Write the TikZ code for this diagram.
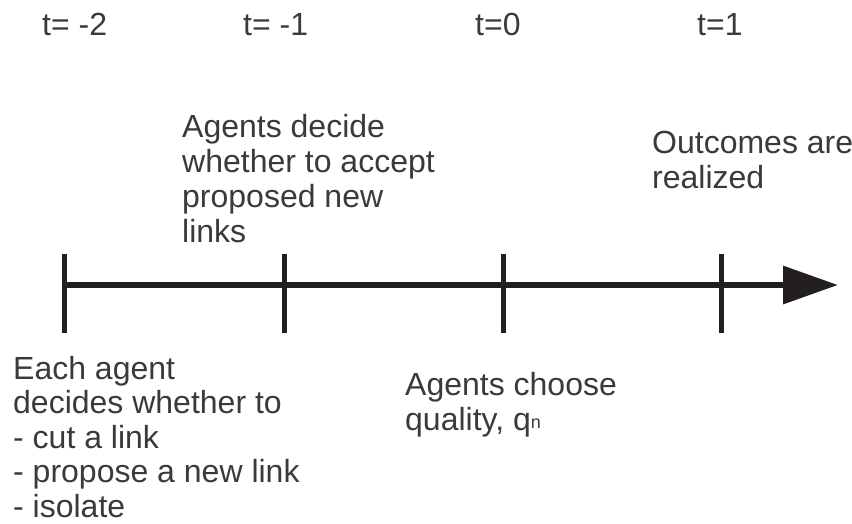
\documentclass[tikz,border=0pt]{standalone}
\usepackage{fontspec}
\setmainfont{Liberation Sans}
\usetikzlibrary{arrows.meta}
\begin{document}
\begin{tikzpicture}[x=1pt,y=1pt,
  lbl/.style={inner sep=0pt,align=left,text=txt,anchor=north west,
    font=\fontsize{32}{35}\selectfont},
  tlbl/.style={inner sep=0pt,text=txt,anchor=base west,
    font=\fontsize{32}{35}\selectfont}]
 \definecolor{ln}{RGB}{35,31,32}
 \definecolor{txt}{RGB}{58,58,60}
 \useasboundingbox (0,0) rectangle (852,-523);
 % time axis and ticks
 \coordinate (axstart) at (64,-285);
 \coordinate (axend) at (838,-285);
 \draw[ln,line width=6.5pt,-{Triangle[length=55pt,width=37pt]}]
   (axstart) -- (axend);
 \foreach \xp in {64,284,503,721} {
   \draw[ln,line width=5pt] (\xp,-254) -- (\xp,-333);
 }
 % period labels
 \foreach \nm/\xp/\txt in {
   tm2/42/{t= -2}, tm1/243/{t= -1},
   t0/475/{t=0}, t1/697/{t=1}
 } {
   \node[tlbl] (\nm) at (\xp,-35) {\txt};
 }
 % events
 \node[lbl] (accept) at (182,-114)
   {Agents decide\\whether to accept\\proposed new\\links};
 \node[lbl] (outcome) at (652,-131) {Outcomes are\\realized};
 \node[lbl,font=\fontsize{32}{34.5}\selectfont] (decide) at (13,-356)
   {Each agent\\decides whether to\\- cut a link\\- propose a new link\\- isolate};
 \node[lbl] (quality) at (405,-372)
   {Agents choose\\quality, q\raisebox{1.5pt}{\fontsize{18}{18}\selectfont n}};
\end{tikzpicture}
\end{document}
